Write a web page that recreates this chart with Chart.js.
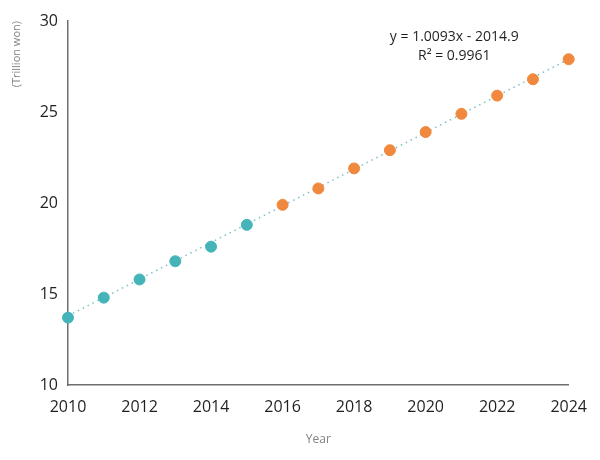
<!DOCTYPE html>
<html>
<head>
<meta charset="utf-8">
<script src="https://cdn.jsdelivr.net/npm/chart.js@4/dist/chart.umd.min.js"></script>
<style>
  html, body { margin: 0; padding: 0; background: #fff; }
  #wrap { width: 600px; height: 460px; }
</style>
</head>
<body>
<div id="wrap"><canvas id="c" width="600" height="460"></canvas></div>
<script>
  // 실측 구간 (2010-2015) / 전망 구간 (2016-2024)
  const yearsActual = [2010, 2011, 2012, 2013, 2014, 2015];
  const valuesActual = [13.7, 14.8, 15.8, 16.8, 17.6, 18.8];
  const yearsForecast = [2016, 2017, 2018, 2019, 2020, 2021, 2022, 2023, 2024];
  const valuesForecast = [19.9, 20.8, 21.9, 22.9, 23.9, 24.9, 25.9, 26.8, 27.9];
  // 추세선 양 끝 (y = 1.0093x - 2014.9)
  const trendYears = [2010, 2024];
  const trendValues = [13.8, 27.9];
  const eqLines = ['y = 1.0093x - 2014.9', 'R² = 0.9961'];

  const TEAL = '#44b4b9';
  const ORANGE = '#f0883e';
  const INK = '#231f20';
  const FONT = "'Open Sans', sans-serif";

  const toXY = (xs, ys) => xs.map((x, i) => ({ x, y: ys[i] }));

  // 회귀식 텍스트
  const eqPlugin = {
    id: 'eq',
    afterDatasetsDraw(chart) {
      const ctx = chart.ctx;
      ctx.save();
      ctx.fillStyle = INK;
      ctx.font = '14px ' + FONT;
      ctx.textAlign = 'center';
      ctx.textBaseline = 'middle';
      const cx = chart.scales.x.getPixelForValue(2020.8);
      ctx.fillText(eqLines[0], cx, 37);
      ctx.fillText(eqLines[1], cx, 56);
      ctx.restore();
    }
  };

  new Chart(document.getElementById('c'), {
    type: 'scatter',
    data: {
      datasets: [
        { label: 'trend', type: 'line', data: toXY(trendYears, trendValues),
          borderColor: '#7cbfca', borderWidth: 1.5, borderDash: [1.5, 4],
          pointRadius: 0, fill: false, order: 3 },
        { label: 'actual', data: toXY(yearsActual, valuesActual),
          backgroundColor: TEAL, borderColor: TEAL, pointRadius: 5.5, order: 1 },
        { label: 'forecast', data: toXY(yearsForecast, valuesForecast),
          backgroundColor: ORANGE, borderColor: ORANGE, pointRadius: 5.5, order: 1 },
      ],
    },
    options: {
      responsive: false, animation: false,
      clip: false,
      layout: { padding: { top: 21, right: 29, left: 0, bottom: 0 } },
      plugins: { legend: { display: false }, tooltip: { enabled: false } },
      scales: {
        x: {
          type: 'linear', min: 2010, max: 2024,
          grid: { display: false, drawTicks: false },
          border: { color: '#6d6e71', width: 1.5 },
          ticks: { stepSize: 2, color: INK, padding: 13, font: { family: FONT, size: 16 },
                   callback: v => String(v) },
          title: { display: true, text: 'Year', color: '#808285',
                   font: { family: FONT, size: 12 }, padding: { top: 0, bottom: 13 } },
          afterFit: s => { s.height = 75; },
        },
        y: {
          min: 10, max: 30,
          grid: { display: false, drawTicks: false },
          border: { color: '#6d6e71', width: 1.5 },
          ticks: { stepSize: 5, color: INK, padding: 10, font: { family: FONT, size: 16 } },
          title: { display: true, text: '(Trillion won)', align: 'end', color: '#808285',
                   font: { family: FONT, size: 11 }, padding: { top: 10, bottom: 0 } },
          afterFit: s => { s.width = 68; },
        },
      },
    },
    plugins: [eqPlugin],
  });
</script>
</body>
</html>
